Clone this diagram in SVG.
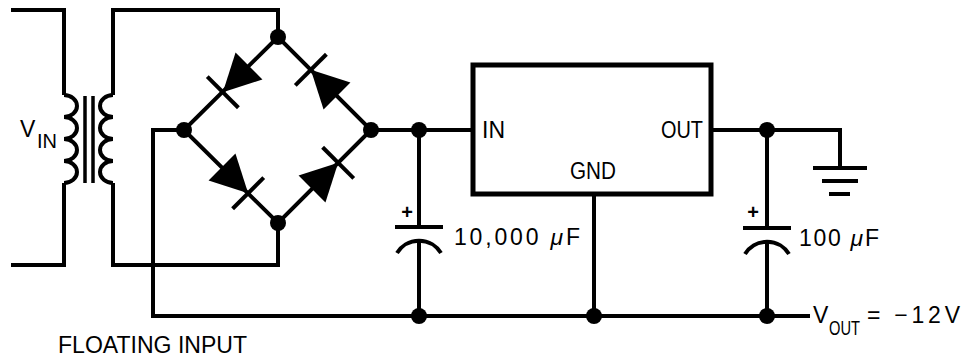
<svg xmlns="http://www.w3.org/2000/svg" xmlns:xlink="http://www.w3.org/1999/xlink" width="969" height="358" viewBox="0 0 969 358">
<style>
.w{fill:none;stroke:#000;stroke-width:4;stroke-linecap:butt;stroke-linejoin:miter}
.core{fill:none;stroke:#000;stroke-width:3.5}
.dot{fill:#000}
.t{font-family:"Liberation Sans",Arial,sans-serif;font-size:23px;fill:#000}
.plus{font-family:"Liberation Sans",Arial,sans-serif;font-size:20px;font-weight:bold;fill:#000;text-anchor:middle}
</style>
<defs>
<g id="diode">
<polygon points="0,-19 0,19 37,0" fill="#000"/>
<line x1="37" y1="-22" x2="37" y2="22" stroke="#000" stroke-width="4"/>
</g>
</defs>
<rect width="969" height="358" fill="#fff"/>
<g id="connectors">
<path class="w" d="M11,10 H64 V95"/>
<path class="w" d="M64,183 V265 H11"/>
<path class="w" d="M113,95 V10 H278 V37"/>
<path class="w" d="M113,183 V265 H278 V223"/>
<path class="w" d="M278,37 L184,130 L278,223 L371,130 Z"/>
<path class="w" d="M184,130 H153 V316 H810"/>
<path class="w" d="M371,130 H473"/>
<path class="w" d="M419,130 V227"/>
<path class="w" d="M419,240 V316"/>
<path class="w" d="M594,194 V316"/>
<path class="w" d="M711,130 H840 V168"/>
<path class="w" d="M767,130 V228"/>
<path class="w" d="M767,242 V316"/>
</g>
<g id="transformer">
<path class="w" d="M64,95 a13,11 0 0 1 0,22 a13,11 0 0 1 0,22 a13,11 0 0 1 0,22 a13,11 0 0 1 0,22"/>
<path class="w" d="M113,95 a13,11 0 0 0 0,22 a13,11 0 0 0 0,22 a13,11 0 0 0 0,22 a13,11 0 0 0 0,22"/>
<line class="core" x1="85" y1="96" x2="85" y2="183"/>
<line class="core" x1="93" y1="96" x2="93" y2="183"/>
<text class="t" x="20" y="137" font-size="21">V<tspan x="37" y="148" font-size="20">IN</tspan></text>
</g>
<g id="bridge">
<use xlink:href="#diode" transform="translate(249,66) rotate(135)"/>
<use xlink:href="#diode" transform="translate(337,96) rotate(-135)"/>
<use xlink:href="#diode" transform="translate(222,167) rotate(45)"/>
<use xlink:href="#diode" transform="translate(312,189) rotate(-45)"/>
</g>
<g id="regulator">
<rect x="473" y="65" width="238" height="129" fill="none" stroke="#000" stroke-width="5"/>
<text class="t" x="482" y="138">IN</text>
<text class="t" x="570" y="179" textLength="46" lengthAdjust="spacingAndGlyphs">GND</text>
<text class="t" x="661" y="138" textLength="42" lengthAdjust="spacingAndGlyphs">OUT</text>
</g>
<g id="c1">
<line class="w" x1="395" y1="227" x2="443" y2="227"/>
<path class="w" d="M397,253 A26,26 0 0 1 441,253"/>
<text class="plus" x="407" y="219">+</text>
<text class="t" x="454" y="245" textLength="126" lengthAdjust="spacing">10,000 <tspan font-style="italic">μ</tspan>F</text>
</g>
<g id="c2">
<line class="w" x1="743" y1="228" x2="791" y2="228"/>
<path class="w" d="M745,254 A26,26 0 0 1 789,254"/>
<text class="plus" x="753" y="219">+</text>
<text class="t" x="799" y="246" textLength="80" lengthAdjust="spacing">100 <tspan font-style="italic">μ</tspan>F</text>
</g>
<g id="ground">
<line class="w" x1="813" y1="168" x2="867" y2="168"/>
<line class="w" x1="822" y1="181" x2="858" y2="181"/>
<line class="w" x1="829" y1="194" x2="850" y2="194"/>
</g>
<g id="nodes">
<circle class="dot" cx="184" cy="130" r="8"/>
<circle class="dot" cx="278" cy="37" r="8"/>
<circle class="dot" cx="371" cy="130" r="8"/>
<circle class="dot" cx="278" cy="223" r="8"/>
<circle class="dot" cx="419" cy="130" r="8"/>
<circle class="dot" cx="767" cy="130" r="8"/>
<circle class="dot" cx="419" cy="316" r="8"/>
<circle class="dot" cx="594" cy="316" r="8"/>
<circle class="dot" cx="767" cy="316" r="8"/>
</g>
<g id="labels">
<text class="t" x="813" y="323" font-size="24">V<tspan x="829" y="335" font-size="21" textLength="31" lengthAdjust="spacingAndGlyphs">OUT</tspan><tspan x="867" y="323" textLength="93" lengthAdjust="spacing">= −12V</tspan></text>
<text class="t" x="58" y="353" font-size="24" textLength="189" lengthAdjust="spacingAndGlyphs">FLOATING INPUT</text>
</g>
</svg>
